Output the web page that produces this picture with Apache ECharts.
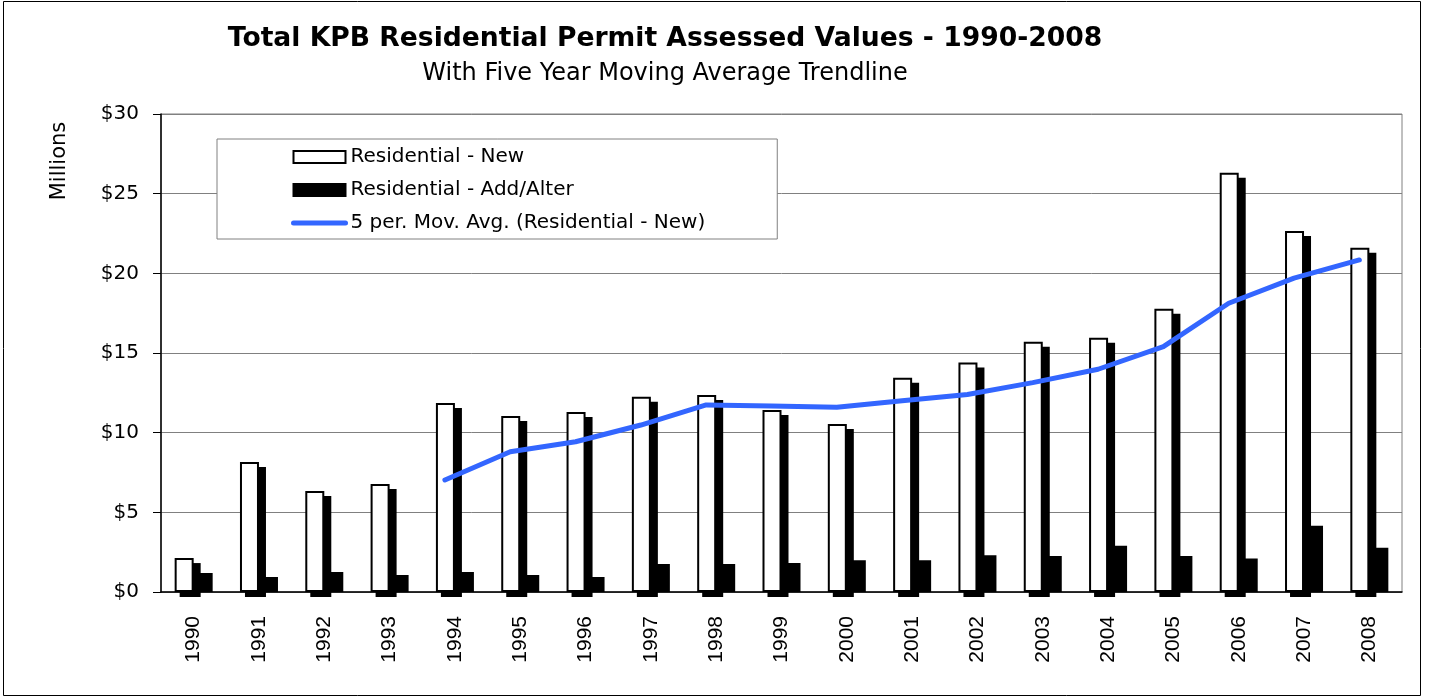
<!DOCTYPE html>
<html>
<head>
<meta charset="utf-8">
<title>KPB Residential Permit Assessed Values</title>
<script src="https://cdn.jsdelivr.net/npm/echarts@6/dist/echarts.min.js"></script>
<style>
  html, body { margin: 0; padding: 0; background: #fff; }
  #chart { width: 1429px; height: 698px; }
</style>
</head>
<body>
<div id="chart"></div>
<script>
// values in millions of dollars
const years = ['1990', '1991', '1992', '1993', '1994', '1995', '1996', '1997', '1998', '1999',
  '2000', '2001', '2002', '2003', '2004', '2005', '2006', '2007', '2008'];
const residentialNew = [2.13, 8.16, 6.34, 6.78, 11.86, 11.05, 11.3, 12.26, 12.37, 11.42,
  10.55, 13.45, 14.4, 15.71, 15.96, 17.77, 26.32, 22.66, 21.6];
const residentialAddAlter = [1.19, 0.94, 1.26, 1.07, 1.26, 1.07, 0.94, 1.76, 1.76, 1.82,
  2.0, 2.0, 2.3, 2.26, 2.9, 2.26, 2.1, 4.16, 2.78];
const movingAvg = [null, null, null, null, 7.03, 8.8, 9.43, 10.48, 11.74, 11.68,
  11.6, 12.0, 12.4, 13.14, 13.98, 15.4, 18.12, 19.7, 20.84];
const yTicks = { min: 0, max: 30, step: 5 };

const font = 'DejaVu Sans';
const chart = echarts.init(document.getElementById('chart'));

// plot area; the extra grids are the same box nudged a few pixels
const plot = { left: 161, right: 27, top: 114, bottom: 106 };

const option = {
  backgroundColor: '#fff',
  animation: false,
  title: {
    text: 'Total KPB Residential Permit Assessed Values - 1990-2008',
    subtext: 'With Five Year Moving Average Trendline',
    left: 660,
    top: 21,
    textAlign: 'center',
    itemGap: 9,
    textStyle: { fontFamily: font, fontSize: 26.6, fontWeight: 'bold', color: '#000' },
    subtextStyle: { fontFamily: font, fontSize: 24, color: '#000' },
  },
  legend: {
    orient: 'vertical',
    left: 217,
    top: 139,
    padding: [8, 72, 6, 74],
    itemWidth: 52,
    itemHeight: 12,
    itemGap: 13,
    backgroundColor: '#fff',
    borderColor: '#808080',
    borderWidth: 1,
    itemStyle: { shadowBlur: 0, shadowOffsetX: 0, shadowOffsetY: 0, shadowColor: 'rgba(0,0,0,0)' },
    textStyle: { fontFamily: font, fontSize: 20, lineHeight: 20, color: '#000' },
    data: [
      { name: 'Residential - New', icon: 'rect' },
      { name: 'Residential - Add/Alter', icon: 'rect' },
      {
        name: '5 per. Mov. Avg. (Residential - New)',
        itemStyle: { opacity: 0 },
        lineStyle: { width: 5, cap: 'round', color: '#3366ff' },
      },
    ],
  },
  graphic: [
    {
      type: 'rect',
      shape: { x: 3.5, y: 1.5, width: 1417, height: 694 },
      style: { fill: 'none', stroke: '#000', lineWidth: 1 },
      z: 100,
    },
    {
      type: 'text',
      x: 60,
      y: 161,
      rotation: Math.PI / 2,
      style: {
        text: 'Millions',
        fontFamily: font,
        fontSize: 21,
        fill: '#000',
        align: 'center',
        verticalAlign: 'middle',
      },
    },
  ],
  grid: [
    Object.assign({ show: true, borderColor: '#808080', borderWidth: 1 }, plot),
    // shifted half a bar left so the trendline sits on the "New" bars
    { left: plot.left - 10, right: plot.right + 10, top: plot.top, bottom: plot.bottom },
    // drop shadow behind the "New" bars: right 6px, down 5px
    { left: plot.left - 3.5, right: plot.right + 3.5, top: plot.top + 5, bottom: plot.bottom - 5 },
  ],
  xAxis: [
    {
      type: 'category',
      gridIndex: 0,
      data: years,
      axisLine: { lineStyle: { color: '#000', width: 1.5 } },
      axisTick: { length: 7, lineStyle: { color: '#000' } },
      axisLabel: {
        rotate: 90,
        margin: 24,
        fontFamily: 'Liberation Sans',
        fontSize: 21,
        color: '#000',
      },
      z: 10,
    },
    { type: 'category', gridIndex: 1, data: years, show: false },
    { type: 'category', gridIndex: 2, data: years, show: false },
  ],
  yAxis: [
    {
      type: 'value',
      gridIndex: 0,
      min: yTicks.min,
      max: yTicks.max,
      interval: yTicks.step,
      axisLine: { show: true, lineStyle: { color: '#000', width: 1.5 } },
      axisTick: { show: true, length: 8, lineStyle: { color: '#000' } },
      splitLine: { lineStyle: { color: '#808080', width: 1 } },
      axisLabel: {
        margin: 22,
        fontFamily: font,
        fontSize: 20,
        color: '#000',
        formatter: (v) => '$' + v,
      },
    },
    { type: 'value', gridIndex: 1, min: yTicks.min, max: yTicks.max, show: false },
    { type: 'value', gridIndex: 2, min: yTicks.min, max: yTicks.max, show: false },
  ],
  series: [
    {
      name: 'shadow',
      type: 'bar',
      xAxisIndex: 2,
      yAxisIndex: 2,
      data: residentialNew,
      barWidth: 21,
      clip: false,
      silent: true,
      itemStyle: { color: '#000' },
    },
    {
      name: 'Residential - New',
      type: 'bar',
      xAxisIndex: 0,
      yAxisIndex: 0,
      data: residentialNew,
      barWidth: 19,
      barGap: '0%',
      itemStyle: { color: '#fff', borderColor: '#000', borderWidth: 2 },
    },
    {
      name: 'Residential - Add/Alter',
      type: 'bar',
      xAxisIndex: 0,
      yAxisIndex: 0,
      data: residentialAddAlter,
      barWidth: 19,
      itemStyle: { color: '#000', borderColor: '#000', borderWidth: 2 },
    },
    {
      name: '5 per. Mov. Avg. (Residential - New)',
      type: 'line',
      xAxisIndex: 1,
      yAxisIndex: 1,
      data: movingAvg,
      symbol: 'none',
      z: 5,
      itemStyle: { color: '#3366ff' },
      lineStyle: { color: '#3366ff', width: 5, cap: 'round', join: 'round' },
    },
  ],
};

chart.setOption(option);
</script>
</body>
</html>
